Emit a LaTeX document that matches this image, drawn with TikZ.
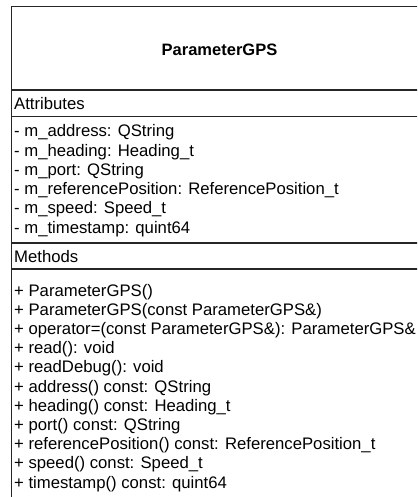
\documentclass[tikz,border=0pt]{standalone}
\usepackage{fontspec}
\setmainfont{Liberation Sans}
\begin{document}
\begin{tikzpicture}[x=1pt,y=-1pt,
  umlline/.style={draw=black!85,line width=1.3pt},
  row/.style={anchor=base west,inner sep=0pt,font=\fontsize{16.7}{19}\selectfont},
  titletext/.style={anchor=base,inner sep=0pt,font=\fontsize{16.5}{19}\selectfont\bfseries}]
\useasboundingbox (0,0) rectangle (417,497);
\clip (0,0) rectangle (417,497);
\fill[white] (0,0) rectangle (417,497);
% class box
\coordinate (tl) at (11.5,6.5);
\coordinate (br) at (427,510);
\draw[umlline] (tl) rectangle (br);
\draw[umlline] (11.5,90) -- (427,90);
\draw[umlline] (11.5,116.5) -- (427,116.5);
\draw[umlline] (11.5,243) -- (427,243);
\draw[umlline] (11.5,269) -- (427,269);
\node[titletext] (title) at (219.5,56) {ParameterGPS};
\node[row] (attrs) at (14,110) {Attributes};
\node[row] (a1) at (14,137) {- m\_address: QString};
\node[row] (a2) at (14,156.2) {- m\_heading: Heading\_t};
\node[row] (a3) at (14,175.4) {- m\_port: QString};
\node[row] (a4) at (14,194.6) {- m\_referencePosition: ReferencePosition\_t};
\node[row] (a5) at (14,213.8) {- m\_speed: Speed\_t};
\node[row] (a6) at (14,233) {- m\_timestamp: quint64};
\node[row] (meths) at (14,262.5) {Methods};
\node[row] (m1) at (14,296) {+ ParameterGPS()};
\node[row] (m2) at (14,315.2) {+ ParameterGPS(const ParameterGPS\&)};
\node[row] (m3) at (14,334.4) {+ operator=(const ParameterGPS\&): ParameterGPS\&};
\node[row] (m4) at (14,353.6) {+ read(): void};
\node[row] (m5) at (14,372.8) {+ readDebug(): void};
\node[row] (m6) at (14,392) {+ address() const: QString};
\node[row] (m7) at (14,411.2) {+ heading() const: Heading\_t};
\node[row] (m8) at (14,430.4) {+ port() const: QString};
\node[row] (m9) at (14,449.6) {+ referencePosition() const: ReferencePosition\_t};
\node[row] (m10) at (14,468.8) {+ speed() const: Speed\_t};
\node[row] (m11) at (14,488) {+ timestamp() const: quint64};
\end{tikzpicture}
\end{document}
